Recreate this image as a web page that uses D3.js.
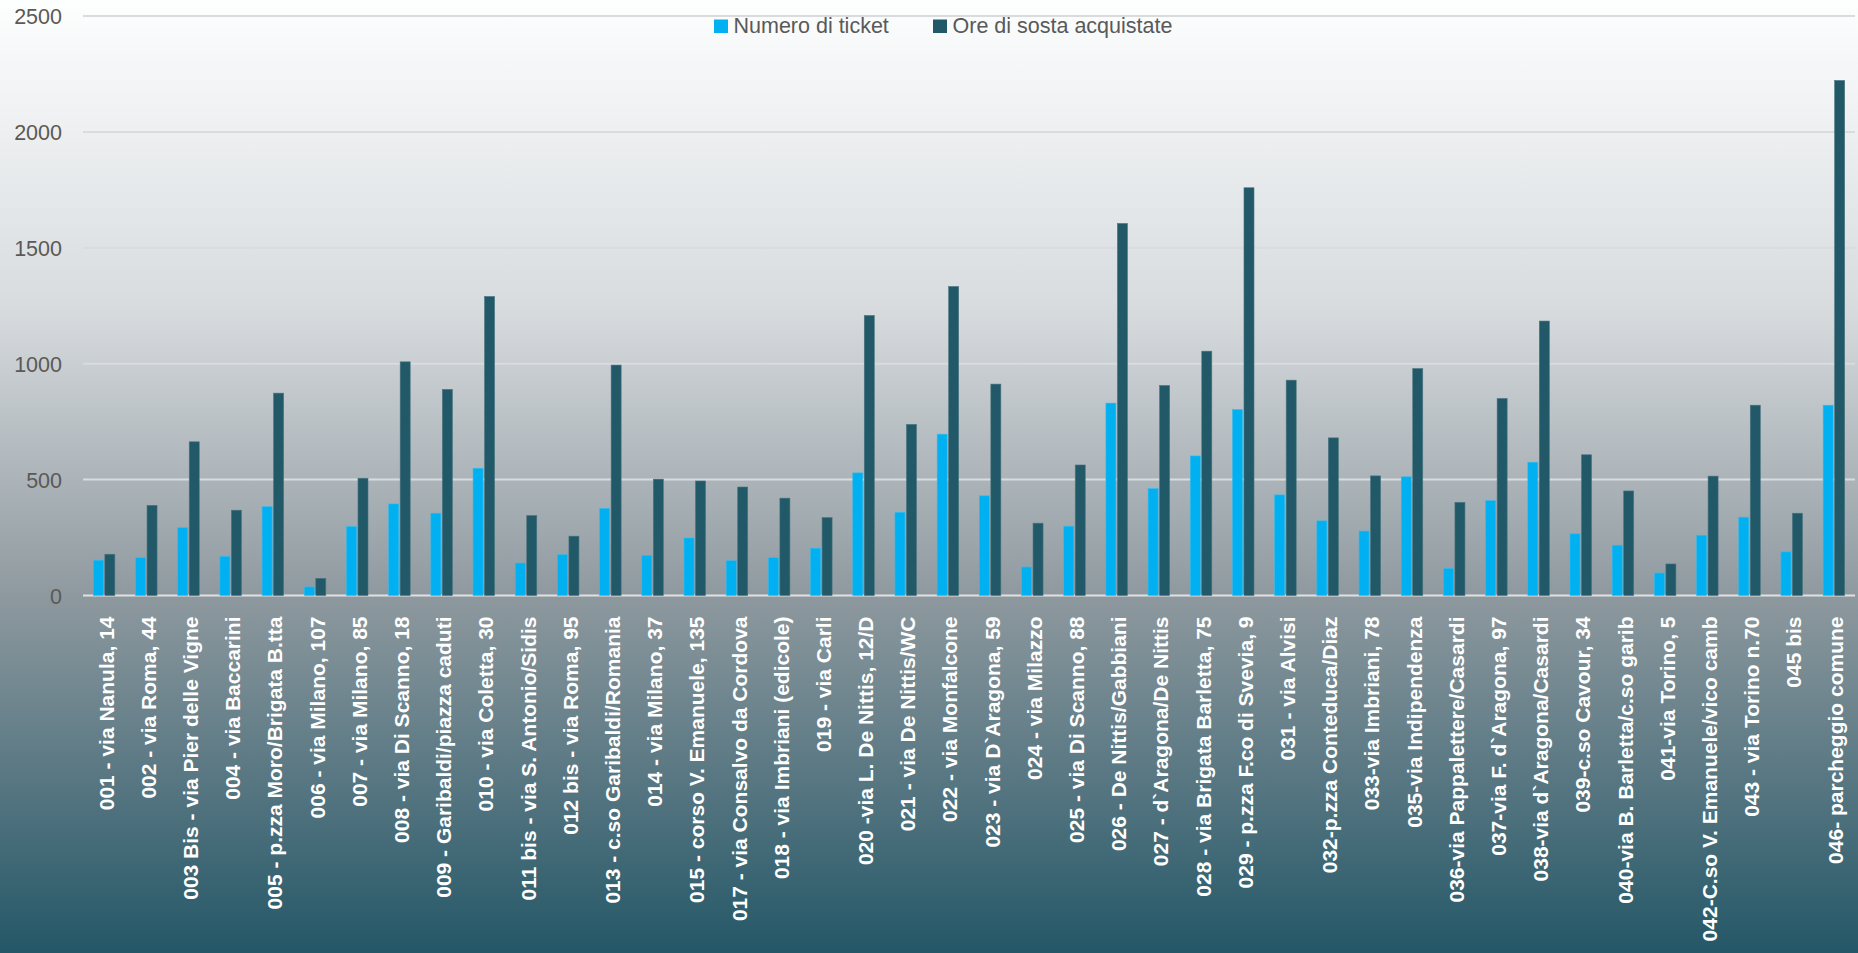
<!DOCTYPE html>
<html>
<head>
<meta charset="utf-8">
<script src="https://cdn.jsdelivr.net/npm/d3@7"></script>
<style>
html,body{margin:0;padding:0;overflow:hidden;}
svg{display:block;}
</style>
</head>
<body>
<svg id="chart" width="1858" height="953"></svg>
<script>
const categories = [
  "001 - via Nanula, 14","002 - via Roma, 44","003 Bis - via Pier delle Vigne","004 - via Baccarini",
  "005 - p.zza Moro/Brigata B.tta","006 - via Milano, 107","007 - via Milano, 85","008 - via Di Scanno, 18",
  "009 - Garibaldi/piazza caduti","010 - via Coletta, 30","011 bis - via S. Antonio/Sidis","012 bis - via Roma, 95",
  "013 - c.so Garibaldi/Romania","014 - via Milano, 37","015 - corso V. Emanuele, 135","017 - via Consalvo da Cordova",
  "018 - via Imbriani (edicole)","019 - via Carli","020 -via L. De Nittis, 12/D","021 - via De Nittis/WC",
  "022 - via Monfalcone","023 - via D`Aragona, 59","024 - via Milazzo","025 - via Di Scanno, 88",
  "026 - De Nittis/Gabbiani","027 - d`Aragona/De Nittis","028 - via Brigata Barletta, 75","029 - p.zza F.co di Svevia, 9",
  "031 - via Alvisi","032-p.zza Conteduca/Diaz","033-via Imbriani, 78","035-via Indipendenza",
  "036-via Pappalettere/Casardi","037-via F. d`Aragona, 97","038-via d`Aragona/Casardi","039-c.so Cavour, 34",
  "040-via B. Barletta/c.so garib","041-via Torino, 5","042-C.so V. Emanuele/vico camb","043 - via Torino n.70",
  "045 bis","046- parcheggio comune"
];
const ticketValues = [152,163,293,169,383,37,297,395,355,549,140,176,376,173,248,150,163,204,529,359,696,430,123,299,830,461,602,802,434,322,278,512,117,409,575,266,217,97,260,338,188,821];
const oreValues = [178,389,663,368,873,74,506,1008,889,1290,345,256,994,502,494,468,420,336,1208,738,1333,912,312,563,1605,906,1054,1759,929,680,516,979,402,850,1184,607,451,136,515,821,355,2222];
const seriesNames = ["Numero di ticket","Ore di sosta acquistate"];
const seriesColors = ["#00b0f0","#215968"];
const yTicks = [0,500,1000,1500,2000,2500];

(function(){
const W = 1858, H = 953;
const svg = d3.select("#chart");
const defs = svg.append("defs");
const grad = defs.append("linearGradient").attr("id","bg").attr("x1",0).attr("y1",0).attr("x2",0).attr("y2",1);
[[0,"#fdfefe"],[0.32,"#d8dcdf"],[0.63,"#8d989e"],[1,"#245767"]].forEach(s=>grad.append("stop").attr("offset",s[0]).attr("stop-color",s[1]));
svg.append("rect").attr("width",W).attr("height",H).attr("fill","url(#bg)");

const pLeft = 83, pRight = 1855, pTop = 16, pBottom = 595.5;
const x = d3.scaleBand().domain(categories).range([pLeft,pRight]).paddingInner(0.49).paddingOuter(0.245);
const x1 = d3.scaleBand().domain([0,1]).range([0,x.bandwidth()]).paddingInner(0.13);
const y = d3.scaleLinear().domain([0,2500]).range([pBottom,pTop]);

// gridlines
svg.append("g").selectAll("line").data(yTicks).join("line")
  .attr("x1",pLeft).attr("x2",pRight)
  .attr("y1",d=>y(d)).attr("y2",d=>y(d))
  .attr("stroke",d=>d===0?"#dfe2e4":"#d9dbdd").attr("stroke-width",2);

// y axis labels
const yAxis = d3.axisLeft(y).tickValues(yTicks).tickSize(0).tickPadding(0).tickFormat(d3.format("d"));
const gy = svg.append("g").attr("transform",`translate(62,0)`).call(yAxis);
gy.select(".domain").remove();
gy.selectAll("text").attr("font-family","Liberation Sans, Arial, sans-serif").attr("font-size",21.5).attr("fill","#595959").attr("dy","0.35em");

// bars
const groups = svg.append("g").selectAll("g").data(categories).join("g")
  .attr("transform",d=>`translate(${x(d)},0)`);
groups.selectAll("rect").data((d,i)=>[ticketValues[i],oreValues[i]]).join("rect")
  .attr("x",(d,j)=>x1(j))
  .attr("width",x1.bandwidth())
  .attr("y",d=>y(d))
  .attr("height",d=>pBottom-y(d))
  .attr("fill",(d,j)=>seriesColors[j])
  .attr("stroke",(d,j)=>j===0?"#33bdf0":"#4a7480").attr("stroke-width",0.6);

// x labels
const xAxis = d3.axisBottom(x).tickSize(0).tickPadding(0);
const gx = svg.append("g").attr("transform",`translate(2,${pBottom})`).call(xAxis);
gx.select(".domain").remove();
gx.selectAll("text")
  .attr("font-family","Liberation Sans, Arial, sans-serif").attr("font-weight","bold")
  .attr("font-size",21).attr("fill","#ffffff")
  .attr("transform","rotate(-90)")
  .attr("text-anchor","end")
  .attr("x",-21).attr("y",0).attr("dy","0.36em");

// legend
const legend = svg.append("g");
const legItems = [{x:714,name:seriesNames[0],c:seriesColors[0]},{x:933,name:seriesNames[1],c:seriesColors[1]}];
legItems.forEach(it=>{
  legend.append("rect").attr("x",it.x).attr("y",19.5).attr("width",14).attr("height",13.5).attr("fill",it.c);
  legend.append("text").attr("x",it.x+19.5).attr("y",33).attr("font-family","Liberation Sans, Arial, sans-serif")
    .attr("font-size",21.5).attr("fill","#595959").text(it.name);
});
})();
</script>
</body>
</html>
